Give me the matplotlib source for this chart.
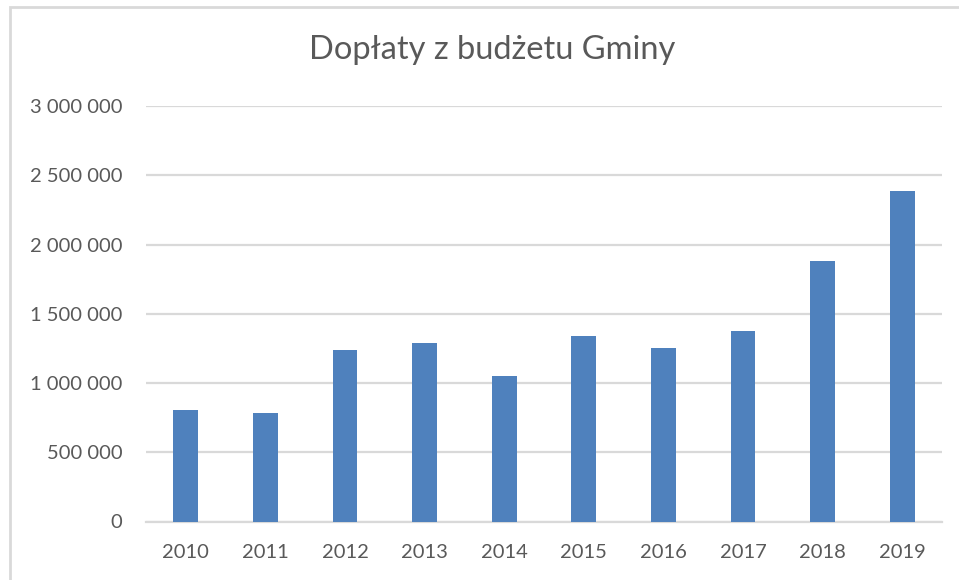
import numpy as np
import matplotlib
matplotlib.use('agg')
import matplotlib.pyplot as plt
from matplotlib.ticker import FuncFormatter
from matplotlib.patches import Rectangle

# data
years = ['2010', '2011', '2012', '2013', '2014', '2015', '2016', '2017', '2018', '2019']
doplaty = [803000, 786000, 1238000, 1291000, 1053000, 1342000, 1255000, 1378000, 1878000, 2385000]
yticks = [0, 500000, 1000000, 1500000, 2000000, 2500000, 3000000]

plt.rcParams['font.family'] = ['Lato', 'DejaVu Sans']
txt = '#595959'
grid = '#D9D9D9'

fig = plt.figure(figsize=(9.59, 5.80), dpi=100)
ax = fig.add_axes([146/959, 1 - 521.5/580, (942 - 146)/959, (521.5 - 106)/580])

x = np.arange(len(years))
ax.bar(x, doplaty, width=0.31, color='#4F81BD', zorder=3)

ax.set_xlim(-0.5, len(years) - 0.5)
ax.set_ylim(0, 3000000)
ax.set_xticks(x)
ax.set_xticklabels(years)
ax.set_yticks(yticks)
ax.yaxis.set_major_formatter(FuncFormatter(lambda v, p: '{:,.0f}'.format(v).replace(',', ' ')))
ax.tick_params(axis='both', length=0, labelsize=14.5, colors=txt)
ax.tick_params(axis='y', pad=17)
ax.tick_params(axis='x', pad=16)
ax.grid(axis='y', color=grid, linewidth=1.6, zorder=0)
for s in ['top', 'right', 'left']:
    ax.spines[s].set_visible(False)
ax.spines['bottom'].set_color(grid)
ax.spines['bottom'].set_linewidth(1.6)

fig.text(492/959, 1 - 50/580, 'Dopłaty z budżetu Gminy', ha='center', va='center',
         fontsize=23.5, color=txt)

# chart frame
fig.patches.append(Rectangle((10/959, -0.1), 1.1, 1 - 7/580 + 0.1, transform=fig.transFigure,
                             fill=False, edgecolor=grid, linewidth=2))

fig.savefig('out.png', dpi=100)
